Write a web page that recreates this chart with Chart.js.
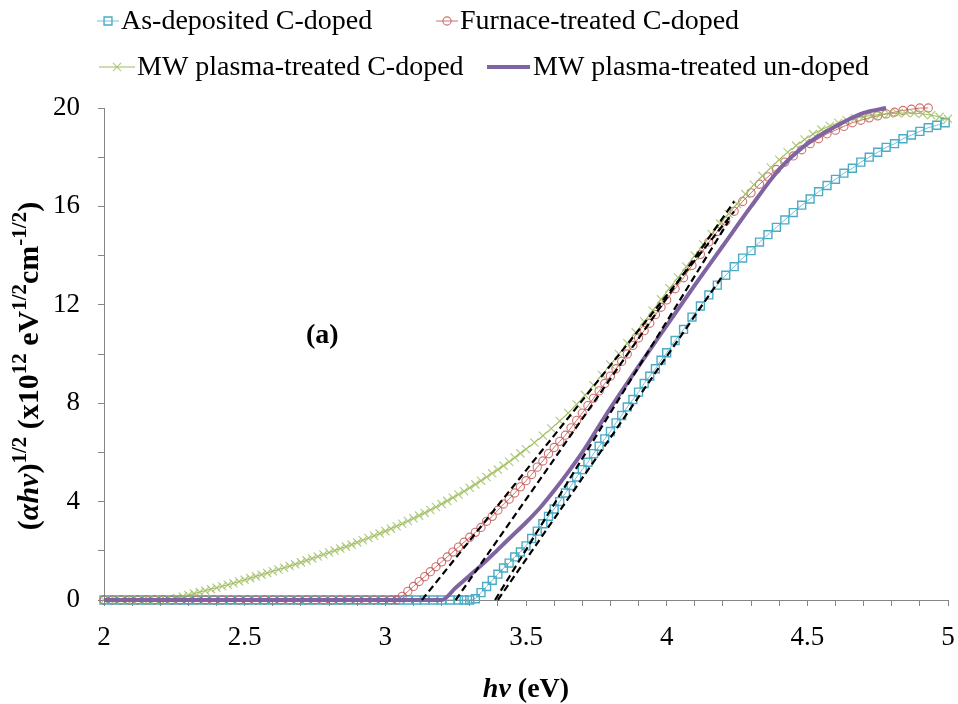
<!DOCTYPE html>
<html>
<head>
<meta charset="utf-8">
<title>Tauc plot (a)</title>
<script src="https://cdn.jsdelivr.net/npm/chart.js@4.4.1/dist/chart.umd.min.js"></script>
<style>
    html, body { margin: 0; padding: 0; background: #fff; overflow: hidden; }
    #wrap { position: relative; width: 958px; height: 704px; }
</style>
</head>
<body>
<div id="wrap"><canvas id="TaucChart"></canvas></div>
<script>
// [hv (eV), (ahv)^1/2] pairs
const asDeposited = [
    [2.00, 0], [2.03, 0], [2.06, 0], [2.09, 0], [2.12, 0], [2.15, 0], [2.18, 0], [2.21, 0], [2.24, 0], [2.27, 0],
    [2.30, 0], [2.33, 0], [2.36, 0], [2.39, 0], [2.42, 0], [2.45, 0], [2.48, 0], [2.51, 0], [2.54, 0], [2.57, 0],
    [2.60, 0], [2.63, 0], [2.66, 0], [2.69, 0], [2.72, 0], [2.75, 0], [2.78, 0], [2.81, 0], [2.84, 0], [2.87, 0],
    [2.90, 0], [2.93, 0], [2.96, 0], [2.99, 0], [3.02, 0], [3.05, 0], [3.08, 0], [3.11, 0], [3.14, 0], [3.17, 0],
    [3.20, 0], [3.23, 0], [3.26, 0], [3.28, 0], [3.30, 0], [3.32, 0.05], [3.34, 0.3], [3.36, 0.55], [3.38, 0.8],
    [3.40, 1.05], [3.42, 1.3], [3.44, 1.5], [3.46, 1.75], [3.48, 1.95], [3.50, 2.2], [3.52, 2.5], [3.54, 2.8],
    [3.56, 3.1], [3.58, 3.4], [3.60, 3.7], [3.62, 4.0], [3.64, 4.35], [3.66, 4.65], [3.68, 5.0], [3.70, 5.3],
    [3.72, 5.6], [3.74, 5.95], [3.76, 6.25], [3.78, 6.55], [3.80, 6.85], [3.82, 7.2], [3.84, 7.5], [3.86, 7.85],
    [3.88, 8.15], [3.90, 8.45], [3.92, 8.8], [3.94, 9.1], [3.96, 9.4], [3.98, 9.75], [4.00, 10.05],
    [4.03, 10.55], [4.06, 11.0], [4.09, 11.5], [4.12, 11.95], [4.15, 12.4], [4.18, 12.8], [4.21, 13.2],
    [4.24, 13.55], [4.27, 13.9], [4.30, 14.2], [4.33, 14.55], [4.36, 14.85], [4.39, 15.15], [4.42, 15.45],
    [4.45, 15.75], [4.48, 16.05], [4.51, 16.3], [4.54, 16.6], [4.57, 16.85], [4.60, 17.1], [4.63, 17.35],
    [4.66, 17.55], [4.69, 17.8], [4.72, 18.0], [4.75, 18.2], [4.78, 18.4], [4.81, 18.55], [4.84, 18.75],
    [4.87, 18.9], [4.90, 19.05], [4.93, 19.2], [4.96, 19.3], [4.99, 19.4]
];

const furnace = [
    [2.00, 0], [2.03, 0], [2.06, 0], [2.09, 0], [2.12, 0], [2.15, 0], [2.18, 0], [2.21, 0], [2.24, 0], [2.27, 0],
    [2.30, 0], [2.33, 0], [2.36, 0], [2.39, 0], [2.42, 0], [2.45, 0], [2.48, 0], [2.51, 0], [2.54, 0], [2.57, 0],
    [2.60, 0], [2.63, 0], [2.66, 0], [2.69, 0], [2.72, 0], [2.75, 0], [2.78, 0], [2.81, 0], [2.84, 0], [2.87, 0],
    [2.90, 0], [2.93, 0], [2.96, 0], [2.99, 0], [3.02, 0], [3.04, 0], [3.06, 0.15], [3.08, 0.35], [3.10, 0.55],
    [3.12, 0.75], [3.14, 0.95], [3.16, 1.15], [3.18, 1.35], [3.20, 1.55], [3.22, 1.75], [3.24, 1.95], [3.26, 2.15],
    [3.28, 2.35], [3.30, 2.55], [3.32, 2.75], [3.34, 2.95], [3.36, 3.2], [3.38, 3.4], [3.40, 3.65], [3.42, 3.9],
    [3.44, 4.1], [3.46, 4.35], [3.48, 4.6], [3.50, 4.85], [3.52, 5.1], [3.54, 5.4], [3.56, 5.65], [3.58, 5.95],
    [3.60, 6.2], [3.62, 6.45], [3.64, 6.7], [3.66, 7.0], [3.68, 7.3], [3.70, 7.6], [3.72, 7.9], [3.74, 8.2],
    [3.76, 8.5], [3.78, 8.8], [3.80, 9.1], [3.82, 9.4], [3.84, 9.7], [3.86, 10.0], [3.88, 10.35], [3.90, 10.65],
    [3.92, 10.95], [3.94, 11.25], [3.96, 11.6], [3.98, 11.9], [4.00, 12.2], [4.03, 12.65], [4.06, 13.1],
    [4.09, 13.6], [4.12, 14.05], [4.15, 14.55], [4.18, 14.98], [4.21, 15.4], [4.24, 15.8], [4.27, 16.2],
    [4.30, 16.55], [4.33, 16.9], [4.36, 17.2], [4.39, 17.5], [4.42, 17.8], [4.45, 18.05], [4.48, 18.3],
    [4.51, 18.55], [4.54, 18.75], [4.57, 18.95], [4.60, 19.1], [4.63, 19.25], [4.66, 19.4], [4.69, 19.5],
    [4.72, 19.6], [4.75, 19.68], [4.78, 19.76], [4.81, 19.83], [4.84, 19.9], [4.87, 19.95], [4.90, 20.0],
    [4.93, 20.0]
];

const mwDoped = [
    [2.00, 0], [2.02, 0], [2.04, 0], [2.06, 0], [2.08, 0], [2.10, 0], [2.12, 0], [2.14, 0], [2.16, 0], [2.18, 0],
    [2.20, 0], [2.22, 0], [2.24, 0.02], [2.26, 0.08], [2.28, 0.14], [2.30, 0.2], [2.32, 0.26], [2.34, 0.32],
    [2.36, 0.38], [2.38, 0.44], [2.40, 0.5], [2.42, 0.56], [2.44, 0.62], [2.46, 0.68], [2.48, 0.75], [2.50, 0.82],
    [2.52, 0.89], [2.54, 0.96], [2.56, 1.03], [2.58, 1.1], [2.60, 1.17], [2.62, 1.24], [2.64, 1.31], [2.66, 1.38],
    [2.68, 1.45], [2.70, 1.53], [2.72, 1.61], [2.74, 1.69], [2.76, 1.77], [2.78, 1.85], [2.80, 1.93], [2.82, 2.01],
    [2.84, 2.09], [2.86, 2.17], [2.88, 2.25], [2.90, 2.34], [2.92, 2.43], [2.94, 2.52], [2.96, 2.61], [2.98, 2.7],
    [3.00, 2.8], [3.02, 2.9], [3.04, 3.0], [3.06, 3.1], [3.08, 3.21], [3.10, 3.32], [3.12, 3.43], [3.14, 3.54],
    [3.16, 3.66], [3.18, 3.78], [3.20, 3.9], [3.22, 4.03], [3.24, 4.16], [3.26, 4.29], [3.28, 4.42], [3.30, 4.56],
    [3.32, 4.7], [3.34, 4.85], [3.36, 5.0], [3.38, 5.15], [3.40, 5.3], [3.42, 5.46], [3.44, 5.62], [3.46, 5.79],
    [3.48, 5.96], [3.50, 6.13], [3.53, 6.4], [3.56, 6.68], [3.59, 6.97], [3.62, 7.28], [3.65, 7.6], [3.68, 7.95],
    [3.71, 8.33], [3.74, 8.73], [3.77, 9.15], [3.80, 9.57], [3.83, 10.0], [3.86, 10.44], [3.89, 10.88],
    [3.92, 11.32], [3.95, 11.77], [3.98, 12.22], [4.01, 12.67], [4.04, 13.11], [4.07, 13.55], [4.10, 14.0],
    [4.13, 14.45], [4.16, 14.88], [4.19, 15.3], [4.22, 15.7], [4.25, 16.1], [4.28, 16.5], [4.31, 16.88],
    [4.34, 17.24], [4.37, 17.58], [4.40, 17.9], [4.43, 18.2], [4.46, 18.47], [4.49, 18.72], [4.52, 18.94],
    [4.55, 19.12], [4.58, 19.27], [4.61, 19.4], [4.64, 19.5], [4.67, 19.58], [4.70, 19.65], [4.73, 19.7],
    [4.76, 19.74], [4.79, 19.77], [4.82, 19.79], [4.85, 19.8], [4.88, 19.79], [4.91, 19.76], [4.94, 19.71],
    [4.97, 19.64], [5.00, 19.56]
];

const mwUndoped = [
    [2.00, 0], [2.50, 0], [3.00, 0], [3.20, 0], [3.25, 0.5], [3.30, 1.0], [3.35, 1.5], [3.40, 2.05], [3.45, 2.6],
    [3.50, 3.15], [3.55, 3.75], [3.60, 4.45], [3.65, 5.2], [3.70, 6.0], [3.75, 6.9], [3.80, 7.8], [3.90, 9.5],
    [4.00, 11.15], [4.10, 12.8], [4.20, 14.4], [4.30, 16.0], [4.40, 17.5], [4.50, 18.55], [4.60, 19.25],
    [4.70, 19.8], [4.78, 20.0]
];

// linear-region extrapolations (dashed)
const fitMwDoped = [[3.13, 0], [4.24, 15.8]];
const fitFurnace = [[3.25, 0], [4.24, 16.2]];
const fitMwUndoped = [[3.39, 0], [4.22, 15.4]];
const fitAsDeposited = [[3.40, 0], [4.20, 13.2]];

const seriesNames = ["As-deposited C-doped", "Furnace-treated C-doped", "MW plasma-treated C-doped", "MW plasma-treated un-doped"];
const xTickLabels = [2, 2.5, 3, 3.5, 4, 4.5, 5];
const yTickLabels = [0, 4, 8, 12, 16, 20];

const FONT = '"Liberation Serif", "Times New Roman", serif';
const AXIS_GREY = "#868686";

function pts(arr) {
    return arr.map((p) => ({ x: p[0], y: p[1] }));
}

function fitLine(arr) {
    return {
        label: "fit",
        data: pts(arr),
        borderColor: "#000",
        borderWidth: 2.2,
        borderDash: [7, 4],
        pointRadius: 0,
        order: 0,
        clip: false,
    };
}

// draws runs of normal / italic / superscript text
const SUP = 0.7;
function drawRich(ctx, parts, x, y, size) {
    let cx = x;
    parts.forEach(([t, st]) => {
        const sup = st.includes("s");
        const fs = sup ? size * SUP : size;
        ctx.font = (st.includes("i") ? "italic " : "") + "bold " + fs + "px " + FONT;
        ctx.fillText(t, cx, sup ? y - size * 0.4 : y);
        cx += ctx.measureText(t).width;
    });
    return cx - x;
}

function richWidth(ctx, parts, size) {
    let w = 0;
    parts.forEach(([t, st]) => {
        const fs = st.includes("s") ? size * SUP : size;
        ctx.font = (st.includes("i") ? "italic " : "") + "bold " + fs + "px " + FONT;
        w += ctx.measureText(t).width;
    });
    return w;
}

// key start, key length, text start
const legendSlots = [
    { x: 97, w: 22, tx: 121, y: 21 },
    { x: 436, w: 22, tx: 460, y: 21 },
    { x: 99, w: 36, tx: 137, y: 67 },
    { x: 487, w: 43, tx: 533, y: 67 },
];

const overlay = {
    id: "overlay",
    afterDraw(chart) {
        const ctx = chart.ctx;
        ctx.save();
        ctx.fillStyle = "#000";

        // legend
        legendSlots.forEach((slot, i) => {
            const ds = chart.data.datasets[i];
            ctx.strokeStyle = ds.borderColor;
            ctx.lineWidth = ds.borderWidth;
            ctx.setLineDash([]);
            ctx.beginPath();
            ctx.moveTo(slot.x, slot.y);
            ctx.lineTo(slot.x + slot.w, slot.y);
            ctx.stroke();
            if (ds.pointRadius > 0) {
                ctx.strokeStyle = ds.pointBorderColor;
                ctx.fillStyle = "rgba(0,0,0,0)";
                ctx.lineWidth = ds.pointBorderWidth;
                Chart.helpers.drawPoint(ctx, {
                    pointStyle: ds.pointStyle,
                    radius: ds.pointRadius,
                    borderWidth: ds.pointBorderWidth,
                    rotation: 0,
                }, slot.x + slot.w / 2, slot.y);
            }
            ctx.fillStyle = "#000";
            ctx.font = "28px " + FONT;
            ctx.textAlign = "left";
            ctx.textBaseline = "middle";
            ctx.fillText(seriesNames[i], slot.tx, slot.y + 1);
        });

        ctx.textBaseline = "alphabetic";
        ctx.textAlign = "left";

        // y title, rotated
        const yParts = [["(", ""], ["\u03B1h\u03BD", "i"], [")", ""], ["1/2", "s"], [" (x10", ""], ["12", "s"],
            [" eV", ""], ["1/2", "s"], ["cm", ""], ["-1/2", "s"], [")", ""]];
        const area = chart.chartArea;
        ctx.save();
        ctx.translate(38, 366);
        ctx.rotate(-Math.PI / 2);
        const yw = richWidth(ctx, yParts, 30);
        drawRich(ctx, yParts, -yw / 2, 0, 30);
        ctx.restore();

        // x title
        const xParts = [["h\u03BD", "i"], [" (eV)", ""]];
        const xw = richWidth(ctx, xParts, 28);
        drawRich(ctx, xParts, (area.left + area.right) / 2 - xw / 2, 697, 28);

        // panel tag
        ctx.font = "bold 28px " + FONT;
        ctx.fillText("(a)", 306, 343);

        ctx.restore();
    },
};

function TaucChart() {
    const ctx = document.getElementById("TaucChart");

    new Chart(ctx, {
        type: "line",
        data: {
            datasets: [
                {
                    label: seriesNames[0],
                    data: pts(asDeposited),
                    borderColor: "rgba(75,172,198,0.75)",
                    borderWidth: 1,
                    pointStyle: "rect",
                    pointRadius: 5.6,
                    pointBorderColor: "#4BACC6",
                    pointBorderWidth: 1.4,
                    pointBackgroundColor: "rgba(0,0,0,0)",
                    order: 4,
                    clip: false,
                },
                {
                    label: seriesNames[1],
                    data: pts(furnace),
                    borderColor: "rgba(192,80,77,0.8)",
                    borderWidth: 1,
                    pointStyle: "circle",
                    pointRadius: 4.1,
                    pointBorderColor: "rgba(192,80,77,0.8)",
                    pointBorderWidth: 1.1,
                    pointBackgroundColor: "rgba(0,0,0,0)",
                    order: 3,
                    clip: false,
                },
                {
                    label: seriesNames[2],
                    data: pts(mwDoped),
                    borderColor: "#9BBB59",
                    borderWidth: 1,
                    pointStyle: "crossRot",
                    pointRadius: 5.8,
                    pointBorderColor: "rgba(155,187,89,0.75)",
                    pointBorderWidth: 1.2,
                    pointBackgroundColor: "rgba(0,0,0,0)",
                    order: 2,
                    clip: false,
                },
                {
                    label: seriesNames[3],
                    data: pts(mwUndoped),
                    borderColor: "#8064A2",
                    borderWidth: 4,
                    pointRadius: 0,
                    cubicInterpolationMode: "monotone",
                    order: 1,
                    clip: false,
                },
                fitLine(fitMwDoped),
                fitLine(fitFurnace),
                fitLine(fitMwUndoped),
                fitLine(fitAsDeposited),
            ],
        },
        options: {
            responsive: true,
            maintainAspectRatio: false,
            animation: false,
            events: [],
            layout: {
                padding: { left: 0, right: 10, top: 108, bottom: 0 },
            },
            plugins: {
                legend: { display: false },
                tooltip: { enabled: false },
            },
            scales: {
                x: {
                    type: "linear",
                    min: 2,
                    max: 5,
                    afterFit: (scale) => {
                        scale.height = 104;
                        scale.paddingLeft = 0;
                        scale.paddingRight = 0;
                    },
                    border: { display: true, color: AXIS_GREY, width: 1 },
                    grid: {
                        display: true,
                        drawOnChartArea: false,
                        drawTicks: true,
                        tickLength: 6,
                        color: AXIS_GREY,
                    },
                    ticks: {
                        stepSize: 0.1,
                        autoSkip: false,
                        maxRotation: 0,
                        padding: 16,
                        color: "#000",
                        font: { family: FONT, size: 27 },
                        callback: (v) => {
                            const hit = xTickLabels.find((t) => Math.abs(t - v) < 1e-6);
                            return hit === undefined ? "" : String(hit);
                        },
                    },
                },
                y: {
                    min: 0,
                    max: 20,
                    afterFit: (scale) => { scale.width = 104; },
                    border: { display: true, color: AXIS_GREY, width: 1 },
                    grid: {
                        display: true,
                        drawOnChartArea: false,
                        drawTicks: true,
                        tickLength: 6,
                        color: AXIS_GREY,
                    },
                    ticks: {
                        stepSize: 2,
                        autoSkip: false,
                        padding: 18,
                        color: "#000",
                        font: { family: FONT, size: 27 },
                        callback: (v) => {
                            const hit = yTickLabels.find((t) => Math.abs(t - v) < 1e-6);
                            return hit === undefined ? "" : String(hit);
                        },
                    },
                },
            },
        },
        plugins: [overlay],
    });
}

TaucChart();
</script>
</body>
</html>
